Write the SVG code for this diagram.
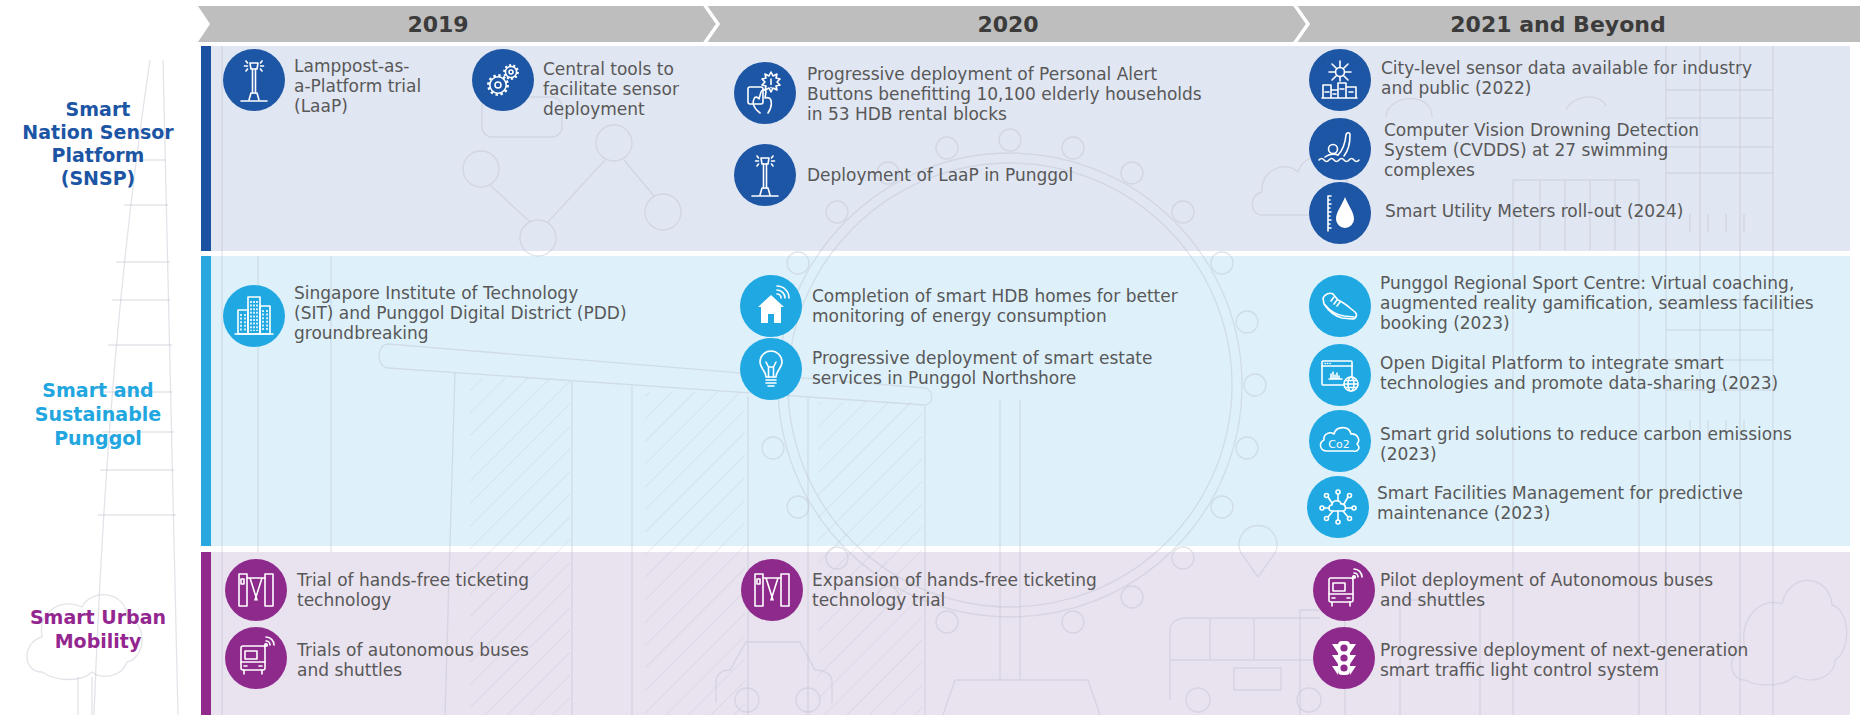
<svg xmlns="http://www.w3.org/2000/svg" xmlns:xlink="http://www.w3.org/1999/xlink" width="1860" height="715" viewBox="0 0 1860 715">
  <style>
    .t { font-family: 'DejaVu Sans', 'Liberation Sans', sans-serif; font-size: 17px; fill: #585858; }
    .yr { font-family: 'DejaVu Sans', sans-serif; font-weight: bold; font-size: 22px; fill: #3b3b3b; text-anchor: middle; }
    .lbl { font-family: 'DejaVu Sans', sans-serif; font-weight: bold; font-size: 19px; text-anchor: middle; }
    .ico { fill: none; stroke: #fff; stroke-width: 1.6; stroke-linecap: round; stroke-linejoin: round; }
    .art { fill: none; stroke: #bfc4ce; stroke-width: 1.3; stroke-opacity: 0.45; }
    .c-snsp { fill: #1d56a4; }
    .c-ssp { fill: #20a8e2; }
    .c-sum { fill: #8d2a8c; }
  </style>
  <defs>
    <pattern id="hatch" width="16" height="16" patternUnits="userSpaceOnUse" patternTransform="rotate(45)">
      <line x1="0" y1="0" x2="0" y2="16" stroke="#bfc4ce" stroke-width="1.3" stroke-opacity="0.45"/>
    </pattern>

    <!-- lamppost -->
    <g id="ic-lamp" class="ico">
      <path d="M-4,-17 H4 L3,-11 H-3 Z"/>
      <path d="M-8,-19 L-6.5,-17 M-9.5,-14 H-6.5 M-8,-9 L-6.5,-11 M8,-19 L6.5,-17 M9.5,-14 H6.5 M8,-9 L6.5,-11"/>
      <path d="M-1.5,-11 V13 M1.5,-11 V13"/>
      <path d="M-3,13 L-5,20 M3,13 L5,20 M-3,13 H3"/>
      <path d="M-13,21 H13"/>
    </g>
    <!-- gears: white teeth, body hollowed with the circle colour, thin outline -->
    <g id="ic-gears">
      <circle cx="-5" cy="5" r="9.6" fill="none" stroke="#fff" stroke-width="2.6" stroke-dasharray="2.4 2.63"/>
      <circle cx="-5" cy="5" r="8.2" fill="#1d56a4"/>
      <circle cx="8" cy="-8" r="6.8" fill="none" stroke="#fff" stroke-width="2.2" stroke-dasharray="2 2.27"/>
      <circle cx="8" cy="-8" r="5.6" fill="#1d56a4"/>
      <g class="ico" stroke-width="1.3">
        <circle cx="-5" cy="5" r="8.2"/>
        <circle cx="-5" cy="5" r="3"/>
        <circle cx="8" cy="-8" r="5.6"/>
        <circle cx="8" cy="-8" r="2"/>
      </g>
    </g>
    <!-- alert button -->
    <g id="ic-alert" class="ico">
      <rect x="-17" y="-6" width="15" height="17" rx="2"/>
      <path d="M6,-21 l2,4 4,-2 -1,4 4,1 -3,3 3,3 -4,1 1,4 -4,-2 -2,4 -2,-4 -4,2 1,-4 -4,-1 3,-3 -3,-3 4,-1 -1,-4 4,2 z"/>
      <path d="M6,-14 V-8.5 M6,-5.5 V-5.2"/>
      <path d="M-5,20 C-11,16 -13,10 -11,6 C-10,3 -7,4 -6,6 L-4,-1 C-3,-4 1,-4 1,-1 L0,5 C3,4 6,5 6,8 C7,12 5,17 3,20"/>
    </g>
    <!-- sensor hub over city -->
    <g id="ic-city" class="ico">
      <circle cx="0" cy="-8" r="4.5"/>
      <path d="M0,-12.5 V-19 M0,-3.5 V1 M-4.5,-8 H-11 M4.5,-8 H11 M-3.2,-11.2 L-8,-16 M3.2,-11.2 L8,-16 M-3.2,-4.8 L-8,0 M3.2,-4.8 L8,0"/>
      <path d="M-17,18 V5 H-9 V18 M-9,18 V10 H-2 V18 M-2,18 V3 H6 V18 M6,18 V7 H16 V18 M-18,18 H17"/>
      <path d="M-15,12 H-11 M-7,14 H-4 M0,9 H4 M9,12 H13"/>
    </g>
    <!-- swimmer -->
    <g id="ic-swim" class="ico">
      <circle cx="-7" cy="0" r="4.5"/>
      <path d="M-2,6 C2,2 5,-4 6,-14 C6.5,-17 10,-17 10,-14 C10,-6 8,2 4,7"/>
      <path d="M-15,8 C-10,4 -4,5 -2,6"/>
      <path d="M-21,11 q2.5,-3 5,0 t5,0 t5,0 t5,0 t5,0 t5,0 t5,0 t5,0"/>
    </g>
    <!-- water meter -->
    <g id="ic-drop">
      <path fill="#fff" d="M5,-16 C2,-8 -4,-1 -4,6 A9,9 0 0 0 14,6 C14,-1 8,-8 5,-16 Z"/>
      <path class="ico" stroke-width="1" d="M-12,-17 V18 M-12,-17 H-9 M-12,-13 H-10 M-12,-9 H-9 M-12,-5 H-10 M-12,-1 H-9 M-12,3 H-10 M-12,7 H-9 M-12,11 H-10 M-12,15 H-9"/>
    </g>
    <!-- campus buildings -->
    <g id="ic-bldg" class="ico" stroke-width="1.3">
      <rect x="-6" y="-19" width="12" height="37"/>
      <rect x="-16" y="-6" width="10" height="24"/>
      <rect x="6" y="-10" width="10" height="28"/>
      <path d="M-3,-15 V15 M0,-15 V15 M3,-15 V15" stroke-dasharray="2 1.6" stroke-linecap="butt"/>
      <path d="M-13,-2 V15 M-9,-2 V15 M9,-6 V15 M13,-6 V15" stroke-dasharray="2 1.6" stroke-linecap="butt"/>
      <path d="M-19,18 H19"/>
    </g>
    <!-- smart home -->
    <g id="ic-house">
      <path fill="#fff" d="M-13,1 L0,-11 L13,1 H10 V17 H3 V8 H-3 V17 H-10 V1 Z"/>
      <path class="ico" d="M6,-12 a4,4 0 0 1 4,4 M6,-16 a8,8 0 0 1 8,8 M6,-20 a12,12 0 0 1 12,12"/>
    </g>
    <!-- light bulb -->
    <g id="ic-bulb" class="ico">
      <path d="M-5,8 C-5,2 -11,-1 -11,-7 A11,11 0 0 1 11,-7 C11,-1 5,2 5,8 Z"/>
      <path d="M-5,11 H5 M-5,14 H5 M-3,17 H3"/>
      <path d="M-2.5,8 V-2 L-5,-7 M2.5,8 V-2 L5,-7 M-2.5,-2 H2.5"/>
    </g>
    <!-- sports shoe -->
    <g id="ic-shoe" class="ico">
      <path d="M-17,-8 C-15,-12 -10,-14 -7,-12 L-2,-6 C2,-4 6,-2 10,2 L15,6 C18,9 16,13 12,13 L2,12 C-6,10 -12,4 -16,-2 Z"/>
      <path d="M-15,-1 C-10,5 -3,9 4,10 L14,11"/>
      <path d="M-6,-9 L-9,-5 M-3,-6 L-6,-2 M0,-4 L-3,0"/>
    </g>
    <!-- web platform -->
    <g id="ic-web" class="ico" stroke-width="1.3">
      <rect x="-18" y="-14" width="30" height="24" rx="1"/>
      <path d="M-18,-9 H12"/>
      <path d="M-15,-11.5 h0.2 M-12.5,-11.5 h0.2 M-10,-11.5 h0.2"/>
      <path d="M-9,4 V-1 M-7,4 V-3 M-5,4 V0 M-3,4 V-2 M-1,4 V1 M-11,4 H2"/>
      <circle cx="11" cy="9" r="7" fill="#20a8e2"/>
      <ellipse cx="11" cy="9" rx="3" ry="7"/>
      <path d="M4,9 H18 M5.5,5.5 H16.5 M5.5,12.5 H16.5"/>
    </g>
    <!-- carbon cloud -->
    <g id="ic-co2">
      <path class="ico" d="M-13,10 C-20,10 -22,2 -16,-1 C-17,-7 -10,-10 -6,-7 C-4,-15 9,-16 11,-7 C17,-8 21,-1 17,3 C21,7 18,11 13,10 Z"/>
      <text x="-1" y="7" text-anchor="middle" font-family="'DejaVu Sans', sans-serif" font-size="11" fill="#fff">Co2</text>
    </g>
    <!-- facility network cloud -->
    <g id="ic-cloudnet" class="ico" stroke-width="1.3">
      <path d="M-6,4 C-10,4 -10,-2 -6,-2 C-6,-7 2,-8 3,-3 C8,-4 9,4 5,4 Z"/>
      <path d="M0,-6 V-13 M0,4 V13 M-9,1 H-14 M8,1 H14 M-6,-4 L-10,-10 M6,-3 L10,-10 M-5,4 L-10,10 M5,4 L10,10"/>
      <circle cx="0" cy="-15" r="2"/><circle cx="0" cy="15" r="2"/>
      <circle cx="-16" cy="1" r="2"/><circle cx="16" cy="1" r="2"/>
      <circle cx="-11.5" cy="-11.5" r="2"/><circle cx="11.5" cy="-11.5" r="2"/>
      <circle cx="-11.5" cy="11.5" r="2"/><circle cx="11.5" cy="11.5" r="2"/>
    </g>
    <!-- fare gates -->
    <g id="ic-gate" class="ico" stroke-width="1.4">
      <rect x="-17" y="-16" width="8" height="32"/>
      <rect x="9" y="-16" width="8" height="32"/>
      <rect x="-15" y="-11" width="3" height="5"/>
      <path d="M-9,-12 H9 M-6,-12 L1,10 M6,-12 L-1,10"/>
    </g>
    <!-- autonomous bus -->
    <g id="ic-bus" class="ico" stroke-width="1.4">
      <rect x="-15" y="-12" width="24" height="24" rx="2"/>
      <rect x="-11" y="-7" width="12" height="8"/>
      <path d="M-15,4 H9 M-12,12 V16 M6,12 V16 M-12,8 h3 M3,8 h3"/>
      <path d="M10,-17 a4,4 0 0 1 4,4 M10,-21 a8,8 0 0 1 8,8"/>
      <circle cx="10" cy="-13" r="1.3" fill="#fff"/>
    </g>
    <!-- traffic light -->
    <g id="ic-traffic">
      <rect x="-6" y="-17" width="12" height="34" rx="4" fill="#fff"/>
      <path fill="#fff" d="M-6,-14 H-12 L-6,-5 Z M6,-14 H12 L6,-5 Z M-6,-3 H-12 L-6,6 Z M6,-3 H12 L6,6 Z M-6,8 H-12 L-6,17 Z M6,8 H12 L6,17 Z"/>
      <circle cx="0" cy="-10" r="3.6" fill="#8d2a8c"/>
      <circle cx="0" cy="0" r="3.6" fill="#8d2a8c"/>
      <circle cx="0" cy="10" r="3.6" fill="#8d2a8c"/>
    </g>
  </defs>

  <rect width="1860" height="715" fill="#ffffff"/>

  <!-- year header band -->
  <g id="timeline-header">
    <path d="M198,6 H1860 V42 H198 L210,24 Z" fill="#bebebe"/>
    <path d="M704,4 L718,24 L704,44 M1294,4 L1308,24 L1294,44" fill="none" stroke="#ffffff" stroke-width="3.5"/>
    <text class="yr" x="438" y="32">2019</text>
    <text class="yr" x="1008" y="32">2020</text>
    <text class="yr" x="1558" y="32">2021 and Beyond</text>
  </g>

  <!-- row panels -->
  <g id="panels">
    <rect x="201" y="46" width="1649" height="205" fill="#e0e6f2"/>
    <rect x="201" y="256" width="1649" height="290" fill="#def1fb"/>
    <rect x="201" y="552" width="1649" height="163" fill="#e9e2ef"/>
  </g>

  <!-- faint city line art behind the content -->
  <g id="backdrop" class="art">
    <!-- tall tower on the left -->
    <path d="M150,60 C122,250 104,450 94,715"/>
    <path d="M163,60 C168,250 174,450 178,715"/>
    <path d="M128,160 H166 M124,205 H168 M116,262 H170 M112,300 H170 M108,345 H172 M104,392 H172 M102,432 H174 M100,470 H174 M98,515 H176"/>
    <path d="M222,46 V715 M258,256 V552 M331,256 V552"/>
    <!-- tree bottom left -->
    <path d="M42,672 C22,672 22,642 42,637 C37,612 62,597 82,607 C92,587 127,592 127,617 C147,622 147,657 127,662 C122,677 102,680 92,672 C82,682 57,682 42,672 Z"/>
    <path d="M78,677 V715 M92,677 V715"/>
    <!-- sensor network -->
    <path d="M490,185 L530,222 M548,222 L605,160 M624,160 L654,196"/>
    <circle cx="481" cy="169" r="18"/>
    <circle cx="614" cy="143" r="18"/>
    <circle cx="538" cy="238" r="18"/>
    <circle cx="663" cy="212" r="18"/>
    <rect x="482" y="97" width="80" height="40" rx="10"/>
    <!-- observation wheel -->
    <circle cx="1010" cy="385" r="232"/>
    <circle cx="1010" cy="385" r="222"/>
    <circle cx="1010" cy="140" r="11"/>
    <circle cx="1073" cy="148" r="11"/>
    <circle cx="1132" cy="173" r="11"/>
    <circle cx="1183" cy="212" r="11"/>
    <circle cx="1222" cy="263" r="11"/>
    <circle cx="1247" cy="322" r="11"/>
    <circle cx="1255" cy="385" r="11"/>
    <circle cx="1247" cy="448" r="11"/>
    <circle cx="947" cy="148" r="11"/>
    <circle cx="888" cy="173" r="11"/>
    <circle cx="837" cy="212" r="11"/>
    <circle cx="798" cy="263" r="11"/>
    <circle cx="773" cy="322" r="11"/>
    <circle cx="765" cy="385" r="11"/>
    <circle cx="773" cy="448" r="11"/>
    <circle cx="798" cy="507" r="11"/>
    <circle cx="837" cy="558" r="11"/>
    <circle cx="888" cy="597" r="11"/>
    <circle cx="947" cy="622" r="11"/>
    <circle cx="1073" cy="622" r="11"/>
    <circle cx="1132" cy="597" r="11"/>
    <circle cx="1183" cy="558" r="11"/>
    <circle cx="1222" cy="507" r="11"/>
    <path d="M1000,400 V680 M1020,400 V680 M955,680 H1088 L1100,715 M955,680 L943,715"/>
    <!-- integrated resort towers and deck -->
    <path d="M388,344 L925,388 C934,390 934,404 925,405 L388,368 C376,367 376,345 388,344 Z"/>
    <path d="M455,372 C452,500 448,600 445,715 M572,382 V715 M632,386 V715 M748,396 V715 M808,398 V715 M925,406 V715"/>
    <rect x="470" y="378" width="100" height="337" fill="url(#hatch)" stroke="none"/>
    <rect x="645" y="392" width="100" height="323" fill="url(#hatch)" stroke="none"/>
    <rect x="818" y="402" width="104" height="313" fill="url(#hatch)" stroke="none"/>
    <!-- right side blocks -->
    <path d="M1666,46 V715 M1773,46 V715 M1700,46 V715 M1740,46 V715"/>
    <path d="M1666,90 H1773 M1666,118 H1773 M1666,147 H1773 M1666,173 H1773 M1666,300 H1773 M1666,330 H1773 M1666,360 H1773 M1666,390 H1773"/>
    <path d="M1513,715 V180 H1639 V715 M1540,180 V250 M1565,180 V250 M1590,180 V250 M1615,180 V250"/>
    <path d="M1690,214 V232 M1708,214 V232 M1726,214 V232 M1744,214 V232 M1690,420 V440 M1708,420 V440 M1726,420 V440 M1744,420 V440"/>
    <path d="M1300,715 V610 H1345 V715 M1400,715 V600 H1480 V715"/>
    <!-- clouds -->
    <path d="M1262,215 C1250,215 1248,195 1262,192 C1260,170 1285,160 1298,172 C1305,150 1335,152 1338,175 C1352,176 1355,200 1340,215 Z"/>
    <path d="M1386,117 C1386,95 1432,90 1432,117"/>
    <path d="M1566,110 C1572,95 1600,92 1606,106"/>
    <path d="M1745,680 C1728,680 1726,652 1745,648 C1738,620 1760,596 1782,604 C1790,570 1830,575 1832,605 C1850,610 1852,650 1835,660 C1835,678 1810,685 1795,676 C1785,686 1760,688 1745,680 Z"/>
    <!-- car, bus and pin -->
    <path d="M716,703 V682 C716,674 722,670 730,670 L746,642 H800 L815,670 C825,670 832,674 832,682 V703"/>
    <circle cx="747" cy="700" r="12"/>
    <circle cx="808" cy="700" r="12"/>
    <path d="M1170,700 V630 C1170,622 1178,618 1186,618 H1320 M1170,660 H1320 M1210,618 V660 M1254,618 V660 M1234,668 H1281 V690 H1234 Z"/>
    <circle cx="1198" cy="700" r="12"/>
    <circle cx="1309" cy="700" r="12"/>
    <path d="M1258,577 L1241,553 A19,19 0 1 1 1275,553 Z"/>
  </g>

  <!-- category bars -->
  <g id="category-bars">
    <rect x="201" y="46" width="10" height="205" fill="#1b51a0"/>
    <rect x="201" y="256" width="10" height="290" fill="#29a7df"/>
    <rect x="201" y="552" width="10" height="163" fill="#912a8c"/>
  </g>

  <!-- category labels -->
  <g id="label-snsp">
    <text class="lbl" fill="#1c55a4" x="98" y="116">Smart</text>
    <text class="lbl" fill="#1c55a4" x="98" y="139">Nation Sensor</text>
    <text class="lbl" fill="#1c55a4" x="98" y="162">Platform</text>
    <text class="lbl" fill="#1c55a4" x="98" y="185">(SNSP)</text>
  </g>
  <g id="label-ssp">
    <text class="lbl" fill="#22a6df" x="98" y="397">Smart and</text>
    <text class="lbl" fill="#22a6df" x="98" y="421">Sustainable</text>
    <text class="lbl" fill="#22a6df" x="98" y="445">Punggol</text>
  </g>
  <g id="label-sum">
    <text class="lbl" fill="#93278f" x="98" y="624">Smart Urban</text>
    <text class="lbl" fill="#93278f" x="98" y="648">Mobility</text>
  </g>

  <!-- Smart Nation Sensor Platform -->
  <g id="snsp-laap-trial">
    <circle class="c-snsp" cx="254" cy="80" r="31"/>
    <use href="#ic-lamp" transform="translate(254,80)"/>
    <text class="t" x="294" y="72">Lamppost-as-<tspan x="294" dy="20">a-Platform trial</tspan><tspan x="294" dy="20">(LaaP)</tspan></text>
  </g>
  <g id="snsp-central-tools">
    <circle class="c-snsp" cx="503" cy="80" r="31"/>
    <use href="#ic-gears" transform="translate(503,80)"/>
    <text class="t" x="543" y="75">Central tools to<tspan x="543" dy="20">facilitate sensor</tspan><tspan x="543" dy="20">deployment</tspan></text>
  </g>
  <g id="snsp-alert-buttons">
    <circle class="c-snsp" cx="765" cy="93" r="31"/>
    <use href="#ic-alert" transform="translate(765,93)"/>
    <text class="t" x="807" y="80">Progressive deployment of Personal Alert<tspan x="807" dy="20">Buttons benefitting 10,100 elderly households</tspan><tspan x="807" dy="20">in 53 HDB rental blocks</tspan></text>
  </g>
  <g id="snsp-laap-punggol">
    <circle class="c-snsp" cx="765" cy="175" r="31"/>
    <use href="#ic-lamp" transform="translate(765,175)"/>
    <text class="t" x="807" y="181">Deployment of LaaP in Punggol</text>
  </g>
  <g id="snsp-city-data">
    <circle class="c-snsp" cx="1340" cy="80" r="31"/>
    <use href="#ic-city" transform="translate(1340,80)"/>
    <text class="t" x="1381" y="74">City-level sensor data available for industry<tspan x="1381" dy="20">and public (2022)</tspan></text>
  </g>
  <g id="snsp-cvdds">
    <circle class="c-snsp" cx="1340" cy="149" r="31"/>
    <use href="#ic-swim" transform="translate(1340,149)"/>
    <text class="t" x="1384" y="136">Computer Vision Drowning Detection<tspan x="1384" dy="20">System (CVDDS) at 27 swimming</tspan><tspan x="1384" dy="20">complexes</tspan></text>
  </g>
  <g id="snsp-utility-meters">
    <circle class="c-snsp" cx="1340" cy="213" r="31"/>
    <use href="#ic-drop" transform="translate(1340,213)"/>
    <text class="t" x="1385" y="217">Smart Utility Meters roll-out (2024)</text>
  </g>

  <!-- Smart and Sustainable Punggol -->
  <g id="ssp-sit-pdd">
    <circle class="c-ssp" cx="254" cy="316" r="31"/>
    <use href="#ic-bldg" transform="translate(254,316)"/>
    <text class="t" x="294" y="299">Singapore Institute of Technology<tspan x="294" dy="20">(SIT) and Punggol Digital District (PDD)</tspan><tspan x="294" dy="20">groundbreaking</tspan></text>
  </g>
  <g id="ssp-smart-homes">
    <circle class="c-ssp" cx="771" cy="306" r="31"/>
    <use href="#ic-house" transform="translate(771,306)"/>
    <text class="t" x="812" y="302">Completion of smart HDB homes for better<tspan x="812" dy="20">monitoring of energy consumption</tspan></text>
  </g>
  <g id="ssp-estate-services">
    <circle class="c-ssp" cx="771" cy="369" r="31"/>
    <use href="#ic-bulb" transform="translate(771,369)"/>
    <text class="t" x="812" y="364">Progressive deployment of smart estate<tspan x="812" dy="20">services in Punggol Northshore</tspan></text>
  </g>
  <g id="ssp-sport-centre">
    <circle class="c-ssp" cx="1340" cy="306" r="31"/>
    <use href="#ic-shoe" transform="translate(1340,306)"/>
    <text class="t" x="1380" y="289">Punggol Regional Sport Centre: Virtual coaching,<tspan x="1380" dy="20">augmented reality gamification, seamless facilities</tspan><tspan x="1380" dy="20">booking (2023)</tspan></text>
  </g>
  <g id="ssp-open-digital-platform">
    <circle class="c-ssp" cx="1340" cy="375" r="31"/>
    <use href="#ic-web" transform="translate(1340,375)"/>
    <text class="t" x="1380" y="369">Open Digital Platform to integrate smart<tspan x="1380" dy="20">technologies and promote data-sharing (2023)</tspan></text>
  </g>
  <g id="ssp-smart-grid">
    <circle class="c-ssp" cx="1340" cy="441" r="31"/>
    <use href="#ic-co2" transform="translate(1340,441)"/>
    <text class="t" x="1380" y="440">Smart grid solutions to reduce carbon emissions<tspan x="1380" dy="20">(2023)</tspan></text>
  </g>
  <g id="ssp-facilities-mgmt">
    <circle class="c-ssp" cx="1338" cy="507" r="31"/>
    <use href="#ic-cloudnet" transform="translate(1338,507)"/>
    <text class="t" x="1377" y="499">Smart Facilities Management for predictive<tspan x="1377" dy="20">maintenance (2023)</tspan></text>
  </g>

  <!-- Smart Urban Mobility -->
  <g id="sum-ticketing-trial">
    <circle class="c-sum" cx="256" cy="590" r="31"/>
    <use href="#ic-gate" transform="translate(256,590)"/>
    <text class="t" x="297" y="586">Trial of hands-free ticketing<tspan x="297" dy="20">technology</tspan></text>
  </g>
  <g id="sum-av-trials">
    <circle class="c-sum" cx="256" cy="658" r="31"/>
    <use href="#ic-bus" transform="translate(256,658)"/>
    <text class="t" x="297" y="656">Trials of autonomous buses<tspan x="297" dy="20">and shuttles</tspan></text>
  </g>
  <g id="sum-ticketing-expansion">
    <circle class="c-sum" cx="772" cy="590" r="31"/>
    <use href="#ic-gate" transform="translate(772,590)"/>
    <text class="t" x="812" y="586">Expansion of hands-free ticketing<tspan x="812" dy="20">technology trial</tspan></text>
  </g>
  <g id="sum-av-pilot">
    <circle class="c-sum" cx="1344" cy="590" r="31"/>
    <use href="#ic-bus" transform="translate(1344,590)"/>
    <text class="t" x="1380" y="586">Pilot deployment of Autonomous buses<tspan x="1380" dy="20">and shuttles</tspan></text>
  </g>
  <g id="sum-traffic-lights">
    <circle class="c-sum" cx="1344" cy="658" r="31"/>
    <use href="#ic-traffic" transform="translate(1344,658)"/>
    <text class="t" x="1380" y="656">Progressive deployment of next-generation<tspan x="1380" dy="20">smart traffic light control system</tspan></text>
  </g>

  <!-- no connectors in this chart; group kept for structure -->
  <g id="connectors"/>
</svg>
